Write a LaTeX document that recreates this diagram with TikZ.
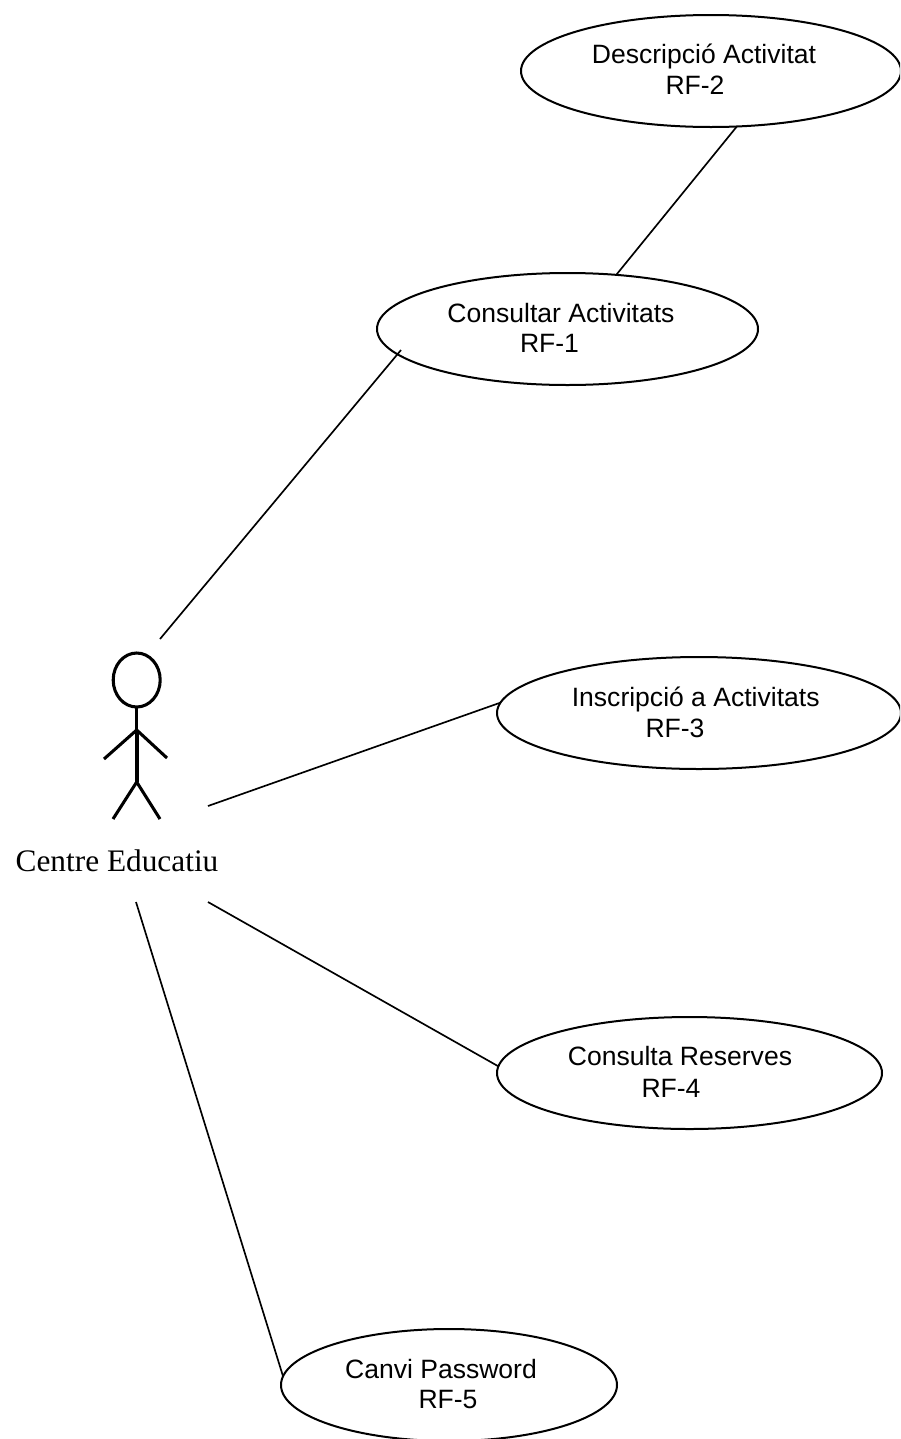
\documentclass[tikz,border=0pt]{standalone}
\usepackage{fontspec}
\setmainfont{Liberation Sans}
\newfontfamily\serifface{Liberation Serif}
\usetikzlibrary{shapes.geometric}
\tikzset{
  x=0.75pt,y=-0.75pt,
  usecase/.style n args={2}{ellipse,draw=black,line width=1.5pt,fill=white,inner sep=0pt,outer sep=0pt,
    minimum width=#1*0.75pt,minimum height=#2*0.75pt},
  uclabel/.style={anchor=base,inner sep=0pt,font=\fontsize{19.9pt}{23pt}\selectfont,text=black},
  assoc/.style={draw=black,line width=1.25pt},
  limb/.style={draw=black,line width=2.3pt},
  torso/.style={draw=black,line width=3.2pt},
}
\begin{document}
\begin{tikzpicture}
\useasboundingbox (0,0) rectangle (900,1439);
\clip (0,0) rectangle (900,1439);
\fill[white] (0,0) rectangle (900,1439);
% use cases
\node[usecase={380}{112}] (e2) at (711,71) {};
\node[usecase={381}{112}] (e1) at (567.5,329) {};
\node[usecase={404}{112}] (e3) at (699,713) {};
\node[usecase={385}{112}] (e4) at (689.5,1073) {};
\node[usecase={336}{112}] (e5) at (449,1385) {};
% labels
\node[uclabel] (t2a) at (704,63) {Descripció Activitat};
\node[uclabel] (t2b) at (695,94) {RF-2};
\node[uclabel] (t1a) at (561,322) {Consultar Activitats};
\node[uclabel] (t1b) at (549.5,352) {RF-1};
\node[uclabel] (t3a) at (695.7,706) {Inscripció a Activitats};
\node[uclabel] (t3b) at (675,737) {RF-3};
\node[uclabel] (t4a) at (680,1065) {Consulta Reserves};
\node[uclabel] (t4b) at (671,1097) {RF-4};
\node[uclabel] (t5a) at (441,1378) {Canvi Password};
\node[uclabel] (t5b) at (448,1408) {RF-5};
% actor
\node[ellipse,draw=black,line width=2.3pt,minimum width=47*0.75pt,minimum height=54*0.75pt,inner sep=0pt,outer sep=0pt] (head) at (136.7,680) {};
\coordinate (shoulder) at (136.7,730);
\coordinate (hip) at (136.7,782);
\coordinate (handl) at (104,759);
\coordinate (handr) at (167,758);
\coordinate (footl) at (113,819);
\coordinate (footr) at (160,819);
\draw[limb] (head.south) -- (shoulder);
\draw[torso] (shoulder) -- (hip);
\draw[limb] (handl) -- (shoulder) -- (handr);
\draw[limb] (footl) -- (hip) -- (footr);
\node[anchor=base,inner sep=0pt,font=\serifface\fontsize{23.5pt}{26pt}\selectfont] (actor) at (117,871) {Centre Educatiu};
% connector ends
\coordinate (a1) at (160,639);
\coordinate (a3) at (208,806);
\coordinate (a4) at (208,902);
\coordinate (a5) at (136,902);
\coordinate (e1in) at (401,350);
% connectors
\draw[assoc] (e2.-65) -- (e1.48);
\draw[assoc] (e1in) -- (a1);
\draw[assoc] (a3) -- (e3.177.45);
\draw[assoc] (a4) -- (e4.178);
\draw[assoc] (a5) -- (e5.177.6);
\end{tikzpicture}
\end{document}
